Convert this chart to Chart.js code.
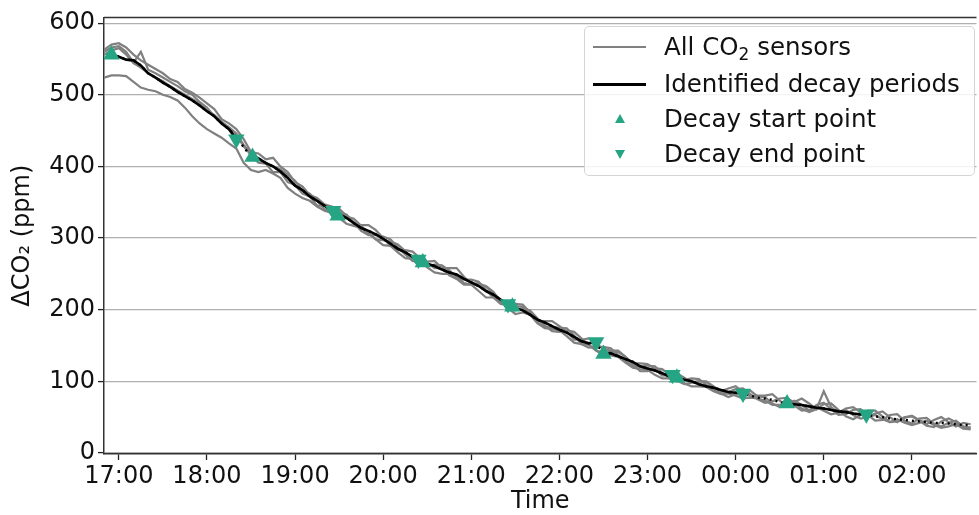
<!DOCTYPE html>
<html>
<head>
<meta charset="utf-8">
<script src="https://cdn.jsdelivr.net/npm/chart.js@4.4.1/dist/chart.umd.min.js"></script>
<style>
    html, body { margin: 0; padding: 0; background: #fff; overflow: hidden; }
    #wrap { position: relative; width: 986px; height: 515px; }
    #legend {
        position: absolute; left: 584px; top: 26px; width: 391px; height: 150px;
        box-sizing: border-box; border: 1px solid #d4d4d4; border-radius: 5px;
        background: rgba(255, 255, 255, 0.85);
        font-family: "DejaVu Sans", sans-serif; font-size: 24.5px; color: #111;
    }
    .row { position: absolute; left: 0; height: 30px; line-height: 30px; white-space: nowrap; }
    .row .label { position: absolute; left: 79px; top: 0; }
    .row .line { position: absolute; left: 8px; top: 14px; width: 53px; height: 0; }
    .row .tri { position: absolute; left: 30px; width: 0; height: 0;
        border-left: 5px solid transparent; border-right: 5px solid transparent; }
    .row sub { font-size: 17px; vertical-align: -5px; line-height: 0; }
</style>
</head>
<body>
<div id="wrap">
    <canvas id="chart" width="986" height="515"></canvas>
    <div id="legend">
        <div class="row" style="top:5px"><span class="line" style="border-top:2.5px solid #808080"></span><span class="label">All CO<sub>2</sub> sensors</span></div>
        <div class="row" style="top:42px"><span class="line" style="border-top:3px solid #000"></span><span class="label">Identified decay periods</span></div>
        <div class="row" style="top:77px"><span class="tri" style="top:10px;border-bottom:9px solid #25a584"></span><span class="label">Decay start point</span></div>
        <div class="row" style="top:112px"><span class="tri" style="top:11px;border-top:9px solid #25a584"></span><span class="label">Decay end point</span></div>
    </div>
</div>
<script>
// x positions are minutes after 17:00
const hourTicks = [0, 60, 120, 180, 240, 300, 360, 420, 480, 540];
const hourLabels = ['17:00', '18:00', '19:00', '20:00', '21:00', '22:00', '23:00', '00:00', '01:00', '02:00'];
const ppmTicks = [0, 100, 200, 300, 400, 500, 600];

// one reading every 5 minutes, 16:50 .. 02:40
const sampleMinutes = [
    -10, -5, 0, 5, 10, 15, 20, 25, 30, 35,
    40, 45, 50, 55, 60, 65, 70, 75, 80, 85,
    90, 95, 100, 105, 110, 115, 120, 125, 130, 135,
    140, 145, 150, 155, 160, 165, 170, 175, 180, 185,
    190, 195, 200, 205, 210, 215, 220, 225, 230, 235,
    240, 245, 250, 255, 260, 265, 270, 275, 280, 285,
    290, 295, 300, 305, 310, 315, 320, 325, 330, 335,
    340, 345, 350, 355, 360, 365, 370, 375, 380, 385,
    390, 395, 400, 405, 410, 415, 420, 425, 430, 435,
    440, 445, 450, 455, 460, 465, 470, 475, 480, 485,
    490, 495, 500, 505, 510, 515, 520, 525, 530, 535,
    540, 545, 550, 555, 560, 565, 570, 575, 580
];

const sensorA = [
    563, 570, 572, 566, 556, 548, 542, 536, 530, 522,
    518, 508, 503, 496, 488, 480, 466, 460, 452, 438,
    420, 418, 410, 412, 400, 392, 378, 372, 360, 356,
    347, 344, 341, 331, 319, 318, 318, 311, 300, 289,
    283, 283, 281, 272, 265, 258, 258, 258, 258, 246,
    236, 237, 232, 223, 211, 209, 208, 207, 196, 184,
    184, 184, 177, 169, 158, 158, 160, 153, 145, 143,
    143, 134, 125, 125, 124, 117, 108, 109, 111, 105,
    99, 100, 100, 93, 86, 90, 93, 85, 79, 80,
    80, 82, 73, 65, 71, 76, 69, 61, 86, 64,
    56, 62, 64, 57, 50, 55, 58, 50, 43, 49,
    52, 46, 40, 46, 50, 43, 37, 42, 40
];
const sensorB = [
    560, 566, 568, 560, 545, 560, 535, 530, 524, 518,
    512, 505, 500, 490, 482, 470, 462, 455, 446, 430,
    418, 412, 404, 400, 396, 388, 380, 366, 362, 352,
    340, 336, 335, 333, 322, 310, 304, 304, 302, 298,
    287, 277, 268, 266, 267, 268, 258, 248, 243, 242,
    242, 239, 227, 217, 208, 206, 205, 204, 194, 182,
    176, 175, 175, 174, 164, 152, 147, 148, 148, 146,
    137, 128, 121, 120, 122, 121, 112, 104, 100, 102,
    104, 103, 95, 88, 83, 85, 89, 90, 82, 75,
    70, 72, 76, 77, 70, 62, 57, 61, 68, 69,
    60, 51, 47, 53, 59, 59, 51, 43, 44, 50,
    51, 45, 38, 36, 44, 48, 43, 35, 36
];
const sensorC = [
    556, 562, 565, 556, 544, 538, 530, 524, 519, 512,
    506, 500, 494, 488, 478, 472, 462, 452, 444, 428,
    416, 405, 404, 392, 392, 378, 374, 362, 358, 345,
    346, 332, 329, 330, 327, 317, 307, 298, 297, 295,
    291, 282, 270, 261, 261, 263, 262, 255, 246, 237,
    235, 235, 233, 225, 212, 202, 199, 202, 199, 188,
    178, 170, 169, 171, 169, 160, 151, 143, 140, 141,
    141, 134, 124, 114, 114, 118, 117, 109, 101, 96,
    98, 100, 99, 92, 83, 78, 82, 86, 87, 79,
    78, 69, 64, 68, 73, 67, 59, 67, 70, 61,
    53, 54, 60, 61, 53, 45, 46, 53, 54, 45,
    41, 48, 49, 41, 37, 42, 45, 37, 34
];
const sensorD = [
    524, 527, 527, 526, 518, 510, 507, 505, 500, 497,
    492, 482, 470, 460, 452, 446, 440, 432, 425, 405,
    395, 392, 395, 390, 384, 370, 362, 356, 352, 344,
    338, 335, 328, 320, 317, 314, 306, 298, 290, 289,
    280, 272, 271, 268, 259, 252, 250, 250, 243, 235,
    235, 226, 217, 217, 212, 202, 194, 196, 193, 181,
    174, 173, 171, 163, 154, 152, 151, 143, 136, 136,
    134, 126, 119, 117, 116, 109, 104, 104, 104, 97,
    93, 93, 92, 86, 82, 83, 80, 76, 77, 76,
    73, 67, 67, 71, 66, 59, 60, 64, 59, 54,
    56, 60, 53, 48, 50, 53, 47, 43, 47, 42,
    39, 42, 45, 39, 35, 37, 40, 34, 33
];
const meanPpm = [
    null, 558, 553, 549, 548, 541, 530, 524, 517, 511,
    504, 498, 492, 485, 477, 470, 460, 452, 441, 427,
    414, 411, 405, 400, 393, 384, 373, 367, 358, 352,
    345, 338, 333, 328, 321, 314, 310, 305, 299, 292,
    285, 280, 274, 268, 264, 261, 256, 252, 249, 243,
    238, 233, 226, 221, 214, 208, 202, 199, 193, 186,
    182, 177, 172, 168, 162, 156, 153, 149, 144, 139,
    135, 131, 127, 121, 118, 115, 111, 107, 105, 102,
    100, 96, 93, 91, 88, 85, 84, 82, 80, 77,
    76, 74, 71, 69, 68, 67, 65, 63, 62, 60,
    58, 57, 55, 54, 53, 51, 50, 48, 47, 46,
    45, 44, 43, 42, 42, 41, 40, 39, 39
];

const decayStart = [-5, 91, 149, 207, 268, 330, 380, 455];
const decayStartPpm = [556, 413, 331, 266, 204, 138, 105, 69];
const decayEnd = [80, 146, 204, 265, 325, 377, 425, 509];
const decayEndPpm = [438, 338, 270, 208, 155, 109, 83, 54];

const markerColor = '#25a584';
const sensorColor = '#808080';

const toPoints = (values) => sampleMinutes.map((t, i) => ({ x: t, y: values[i] }));

// solid black line only inside each identified decay period
const decayLine = [];
decayStart.forEach((t0, i) => {
    const t1 = decayEnd[i];
    decayLine.push({ x: t0, y: decayStartPpm[i] });
    sampleMinutes.forEach((t, k) => {
        if (t > t0 && t < t1) decayLine.push({ x: t, y: meanPpm[k] });
    });
    decayLine.push({ x: t1, y: decayEndPpm[i] });
    decayLine.push({ x: t1 + 0.01, y: null });
});

const sensorDataset = (values) => ({
    data: toPoints(values),
    borderColor: sensorColor,
    borderWidth: 2.2,
    pointRadius: 0,
    tension: 0,
    order: 3,
});

// top spine, matplotlib style frame
const topSpine = {
    id: 'topSpine',
    afterDraw(chart) {
        const { ctx, chartArea } = chart;
        ctx.save();
        ctx.strokeStyle = '#333';
        ctx.lineWidth = 1.5;
        ctx.beginPath();
        ctx.moveTo(chartArea.left, chartArea.top);
        ctx.lineTo(chartArea.right, chartArea.top);
        ctx.stroke();
        ctx.restore();
    }
};

const tickFont = { family: 'DejaVu Sans', size: 24 };

new Chart(document.getElementById('chart'), {
    type: 'line',
    data: {
        datasets: [
            {
                data: decayStart.map((t, i) => ({ x: t, y: decayStartPpm[i] })),
                showLine: false,
                pointStyle: 'triangle',
                pointRadius: 9.5,
                pointBackgroundColor: markerColor,
                pointBorderWidth: 0,
                order: 0,
            },
            {
                data: decayEnd.map((t, i) => ({ x: t, y: decayEndPpm[i] })),
                showLine: false,
                pointStyle: 'triangle',
                pointRotation: 180,
                pointRadius: 9.5,
                pointBackgroundColor: markerColor,
                pointBorderWidth: 0,
                order: 0,
            },
            {
                data: decayLine,
                borderColor: '#000',
                borderWidth: 2.6,
                pointRadius: 0,
                spanGaps: false,
                order: 1,
            },
            {
                data: toPoints(meanPpm),
                borderColor: '#000',
                borderWidth: 2.4,
                borderDash: [2, 4],
                pointRadius: 0,
                order: 2,
            },
            sensorDataset(sensorA),
            sensorDataset(sensorB),
            sensorDataset(sensorC),
            sensorDataset(sensorD),
        ]
    },
    options: {
        responsive: false,
        animation: false,
        layout: { padding: { top: 12, right: 0, left: 0, bottom: 0 } },
        plugins: {
            legend: { display: false },
            tooltip: { enabled: false },
        },
        scales: {
            x: {
                type: 'linear',
                min: -10.1,
                max: 584,
                afterBuildTicks: (scale) => { scale.ticks = hourTicks.map(v => ({ value: v })); },
                afterFit: (scale) => { scale.height = 61; },
                ticks: {
                    font: tickFont,
                    color: '#111',
                    padding: 2,
                    maxRotation: 0,
                    autoSkip: false,
                    callback: (value) => hourLabels[hourTicks.indexOf(value)],
                },
                grid: { drawOnChartArea: false, tickLength: 6, tickColor: '#222', tickWidth: 1.3 },
                border: { color: '#333', width: 1.5 },
                title: { display: true, text: 'Time', font: { ...tickFont, lineHeight: 1.0 }, color: '#111', padding: { top: 0, bottom: 1 } },
            },
            y: {
                min: -1.5,
                max: 608,
                afterBuildTicks: (scale) => { scale.ticks = ppmTicks.map(v => ({ value: v })); },
                afterFit: (scale) => { scale.width = 104; },
                ticks: { font: tickFont, color: '#111', padding: 3 },
                grid: { color: '#b0b0b0', lineWidth: 1.2, tickLength: 6, tickColor: '#222', tickWidth: 1.3 },
                border: { color: '#333', width: 1.5 },
                title: { display: true, text: 'ΔCO₂ (ppm)', font: tickFont, color: '#111', padding: { top: 8, bottom: 0 } },
            }
        }
    },
    plugins: [topSpine]
});
</script>
</body>
</html>
